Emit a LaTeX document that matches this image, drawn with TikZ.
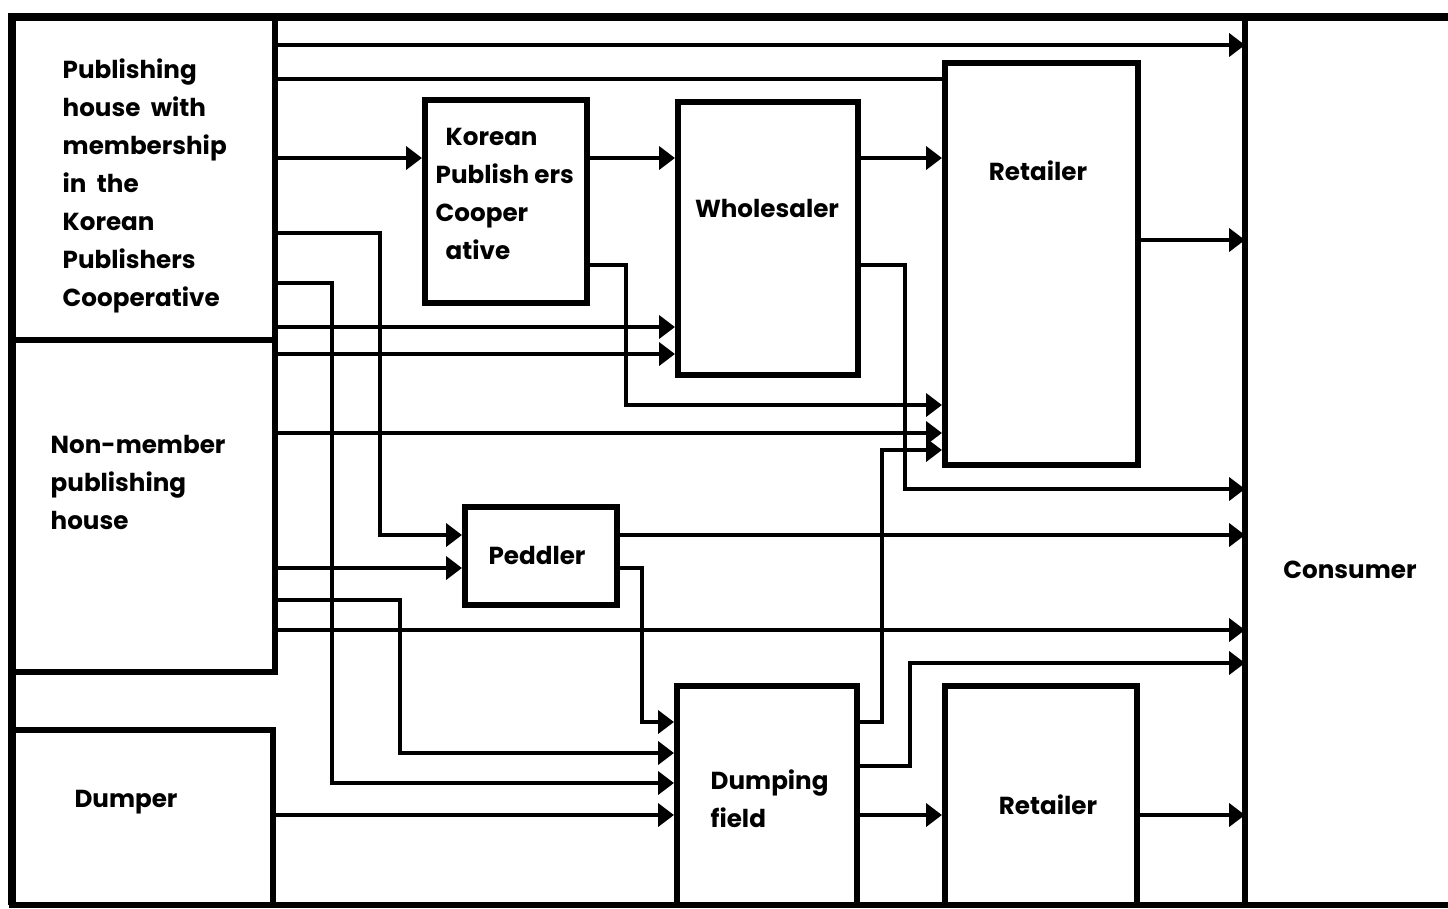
\documentclass[tikz,border=0pt]{standalone}
\usepackage{fontspec}
\setmainfont{Poppins}
\usetikzlibrary{arrows.meta}
\begin{document}
\begin{tikzpicture}[x=0.01cm,y=-0.01cm,
  box/.style={draw,line width=1.7pt,inner sep=0pt},
  lbl/.style={font=\fontsize{7}{10.8}\selectfont\bfseries,inner sep=0pt,align=left},
  conn/.style={line width=1.1pt},
  arr/.style={conn,-{Triangle[length=4.5pt,width=6.5pt]}}]
\useasboundingbox (0,0) rectangle (1448,908);
% frame
\coordinate (tl) at (12,17); \coordinate (tr) at (1448,17);
\coordinate (bl) at (12,905); \coordinate (br) at (1448,905);
\coordinate (ct) at (1245,17); \coordinate (cb) at (1245,905);
\coordinate (cl) at (1245,0);
% boxes
\node[box,minimum width=2.63cm,minimum height=3.23cm] (pm) at (143.5,178.5) {};
\node[box,minimum width=2.63cm,minimum height=3.32cm] (nm) at (143.5,506) {};
\node[box,minimum width=2.61cm,minimum height=1.75cm] (dumper) at (142.5,817.5) {};
\node[box,minimum width=1.62cm,minimum height=2.03cm] (kpc) at (506,201.5) {};
\node[box,minimum width=1.80cm,minimum height=2.73cm] (whs) at (768,238.5) {};
\node[box,minimum width=1.93cm,minimum height=4.02cm] (ret1) at (1041.5,264) {};
\node[box,minimum width=1.52cm,minimum height=0.98cm] (ped) at (541,556) {};
\node[box,minimum width=1.80cm,minimum height=2.19cm] (dump) at (767,795.5) {};
\node[box,minimum width=1.92cm,minimum height=2.19cm] (ret2) at (1041,795.5) {};
\draw[line width=2.4pt] (tr) -- (tl) -- (bl);
\draw[line width=1.6pt] (bl) -- (br);
\draw[line width=1.5pt] (ct) -- (cb);
% labels
\node[lbl,anchor=north west] (pmT) at (62,58) {Publishing\\house\ \ with\\membership\\in\ \ the\\Korean\\Publishers\\Cooperative};
\node[lbl,anchor=north west] (nmT) at (50,435) {Non-member\\publishing\\house};
\node[lbl] (dumperT) at (126,802) {Dumper};
\node[lbl,anchor=north west] (kpcT) at (435,128) {\hspace{1mm}Korean\\Publish ers\\Cooper\\\hspace{1mm}ative};
\node[lbl] (whsT) at (767,208) {Wholesaler};
\node[lbl] (ret1T) at (1038,171) {Retailer};
\node[lbl] (pedT) at (537,555) {Peddler};
\node[lbl,anchor=north west] (dumpT) at (710,769) {Dumping\\field};
\node[lbl] (ret2T) at (1048,805) {Retailer};
\node[lbl] (cons) at (1350,570) {Consumer};
% connectors
\draw[arr] (pm.east|-0,45) -- (cl|-0,45);
\draw[conn] (pm.east|-0,79) -- (ret1.west|-0,79);
\draw[arr] (pm.east|-0,158) -- (kpc.west|-0,158);
\draw[arr] (kpc.east|-0,158) -- (whs.west|-0,158);
\draw[arr] (whs.east|-0,158) -- (ret1.west|-0,158);
\draw[arr] (ret1.east|-0,240) -- (cl|-0,240);
\draw[arr] (pm.east|-0,233) -| (380,535) -- (ped.west|-0,535);
\draw[arr] (pm.east|-0,283) -| (332,783) -- (dump.west|-0,783);
\draw[arr] (pm.east|-0,327) -- (whs.west|-0,327);
\draw[arr] (nm.east|-0,354) -- (whs.west|-0,354);
\draw[arr] (kpc.east|-0,265) -| (626,405) -- (ret1.west|-0,405);
\draw[arr] (nm.east|-0,433) -- (ret1.west|-0,433);
\draw[arr] (dump.east|-0,722) -| (882,450) -- (ret1.west|-0,450);
\draw[arr] (whs.east|-0,265) -| (905,489) -- (cl|-0,489);
\draw[arr] (ped.east|-0,535) -- (cl|-0,535);
\draw[arr] (ped.east|-0,568) -| (642,722) -- (dump.west|-0,722);
\draw[arr] (nm.east|-0,568) -- (ped.west|-0,568);
\draw[arr] (nm.east|-0,600) -| (400,753) -- (dump.west|-0,753);
\draw[arr] (nm.east|-0,630) -- (cl|-0,630);
\draw[arr] (dump.east|-0,766) -| (910,663) -- (cl|-0,663);
\draw[arr] (dump.east|-0,815) -- (ret2.west|-0,815);
\draw[arr] (ret2.east|-0,815) -- (cl|-0,815);
\draw[arr] (dumper.east|-0,815) -- (dump.west|-0,815);
\end{tikzpicture}
\end{document}
